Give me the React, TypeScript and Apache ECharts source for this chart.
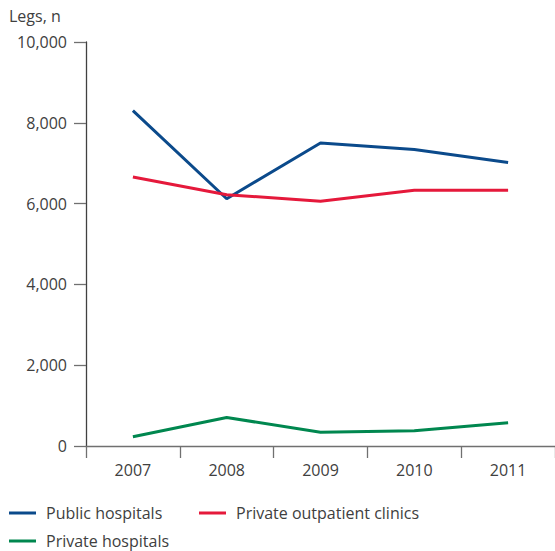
import React, { useEffect, useRef } from "react";
import * as echarts from "echarts";

const years = ["2007", "2008", "2009", "2010", "2011"];
const publicHospitals = [8300, 6120, 7500, 7340, 7020];
const privateOutpatientClinics = [6660, 6220, 6060, 6330, 6330];
const privateHospitals = [230, 705, 340, 380, 575];
const yTicks = { min: 0, max: 10000, interval: 2000 };

const FONT = "'Open Sans', sans-serif";
const TEXT = "#404040";

export default function App() {
  const ref = useRef<HTMLDivElement>(null);
  useEffect(() => {
    if (!ref.current) return;
    const chart = echarts.init(ref.current, undefined, { renderer: "svg" });
    const legendCommon = {
      icon: "rect",
      itemWidth: 27,
      itemHeight: 3,
      itemGap: 0,
      padding: 0,
      textStyle: {
        fontFamily: FONT,
        fontSize: 16,
        color: TEXT,
        lineHeight: 18,
        padding: [0, 0, 0, 5],
      },
    };
    chart.setOption({
      animation: false,
      backgroundColor: "#ffffff",
      textStyle: { fontFamily: FONT },
      title: {
        text: "Legs, n",
        left: 9,
        top: 8,
        padding: 0,
        textStyle: { fontFamily: FONT, fontSize: 16, fontWeight: "normal", color: TEXT },
      },
      legend: [
        { ...legendCommon, data: ["Public hospitals"], left: 9, top: 504 },
        { ...legendCommon, data: ["Private outpatient clinics"], left: 199, top: 504 },
        { ...legendCommon, data: ["Private hospitals"], left: 9, top: 532 },
      ],
      grid: { left: 86, right: -6, top: 42, bottom: 105, containLabel: false },
      xAxis: {
        type: "category",
        data: years,
        boundaryGap: true,
        axisLine: { show: true, lineStyle: { color: "#707070", width: 1.3 } },
        axisTick: { show: true, length: 12, lineStyle: { color: "#707070", width: 1.3 } },
        axisLabel: { fontFamily: FONT, fontSize: 16, color: TEXT, margin: 16 },
        splitLine: { show: false },
      },
      yAxis: {
        type: "value",
        min: yTicks.min,
        max: yTicks.max,
        interval: yTicks.interval,
        axisLine: { show: true, lineStyle: { color: "#404040", width: 1.3 } },
        axisTick: { show: true, length: 12, lineStyle: { color: "#707070", width: 1.3 } },
        axisLabel: {
          fontFamily: FONT,
          fontSize: 16,
          color: TEXT,
          margin: 19,
          formatter: (v: number) => v.toLocaleString("en-US"),
        },
        splitLine: { show: false },
      },
      series: [
        {
          name: "Public hospitals",
          type: "line",
          data: publicHospitals,
          showSymbol: false,
          symbol: "none",
          color: "#0b4a8b",
          lineStyle: { width: 3, color: "#0b4a8b" },
        },
        {
          name: "Private outpatient clinics",
          type: "line",
          data: privateOutpatientClinics,
          showSymbol: false,
          symbol: "none",
          color: "#e5193b",
          lineStyle: { width: 3, color: "#e5193b" },
        },
        {
          name: "Private hospitals",
          type: "line",
          data: privateHospitals,
          showSymbol: false,
          symbol: "none",
          color: "#00874f",
          lineStyle: { width: 3, color: "#00874f" },
        },
      ],
    });
    return () => chart.dispose();
  }, []);
  return (
    <div
      ref={ref}
      style={{ position: "fixed", left: 0, top: 0, width: 555, height: 551, background: "#fff" }}
    />
  );
}
